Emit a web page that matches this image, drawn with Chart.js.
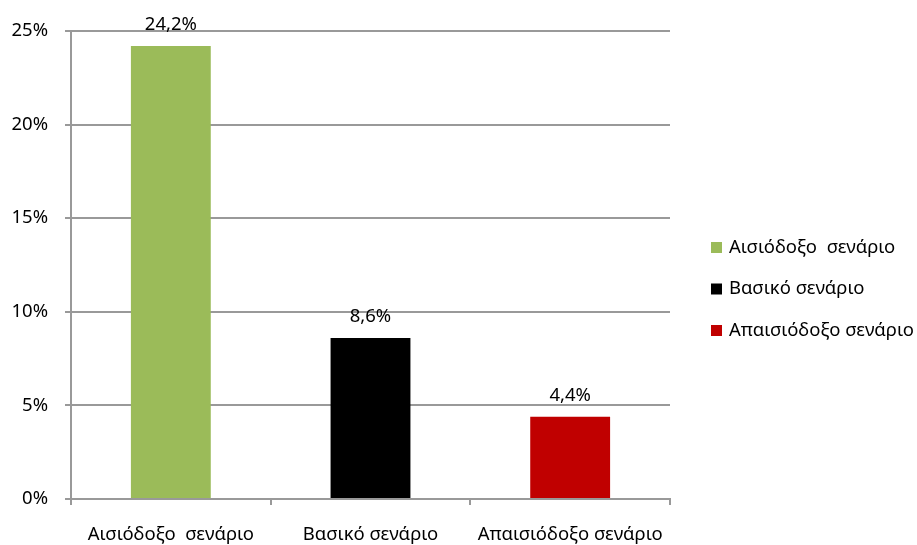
<!DOCTYPE html>
<html>
<head>
<meta charset="utf-8">
<script src="https://cdn.jsdelivr.net/npm/chart.js@4.4.0/dist/chart.umd.min.js"></script>
<style>
html,body{margin:0;padding:0;background:#fff;}
#wrap{width:917px;height:545px;position:relative;}
</style>
</head>
<body>
<div id="wrap"><canvas id="c" width="917" height="545"></canvas></div>
<script>
const categories = ['Αισιόδοξο  σενάριο', 'Βασικό σενάριο', 'Απαισιόδοξο σενάριο'];
const values = [24.2, 8.6, 4.4];
const colors = ['#9BBB59', '#000000', '#C00000'];
const yTicks = [0, 5, 10, 15, 20, 25];

const FONT = '"Noto Sans", "DejaVu Sans", sans-serif';
const FONT_SIZE = 18.5;
const GRID = '#999999';

const datasets = categories.map((name, i) => ({
  label: name,
  data: categories.map((_, j) => (j === i ? values[i] : null)),
  backgroundColor: colors[i],
  borderWidth: 0
}));

const valueLabels = {
  id: 'valueLabels',
  afterDatasetsDraw(chart) {
    const ctx = chart.ctx;
    ctx.save();
    ctx.font = FONT_SIZE + 'px ' + FONT;
    ctx.fillStyle = '#000';
    ctx.textAlign = 'center';
    ctx.textBaseline = 'middle';
    chart.data.datasets.forEach((ds, di) => {
      const meta = chart.getDatasetMeta(di);
      meta.data.forEach((bar, j) => {
        const v = ds.data[j];
        if (v === null || v === undefined) return;
        const txt = v.toFixed(1).replace('.', ',') + '%';
        ctx.fillText(txt, bar.x, bar.y - 21);
      });
    });
    ctx.restore();
  }
};

const sideLegend = {
  id: 'sideLegend',
  afterDraw(chart) {
    const ctx = chart.ctx;
    ctx.save();
    ctx.font = FONT_SIZE + 'px ' + FONT;
    ctx.textAlign = 'left';
    ctx.textBaseline = 'middle';
    const x0 = 711, box = 11, rowGap = 41.5;
    const yc = 289;
    chart.data.datasets.forEach((ds, i) => {
      const y = yc + (i - 1) * rowGap;
      ctx.fillStyle = ds.backgroundColor;
      ctx.fillRect(x0, y - box / 2, box, box);
      ctx.fillStyle = '#000';
      ctx.fillText(ds.label, x0 + 18, y);
    });
    ctx.restore();
  }
};

new Chart(document.getElementById('c'), {
  type: 'bar',
  data: { labels: categories, datasets },
  options: {
    responsive: false,
    animation: false,
    devicePixelRatio: 1,
    layout: { padding: { top: 31, right: 247, left: 0, bottom: 0 } },
    datasets: { bar: { grouped: false, barPercentage: 0.4, categoryPercentage: 1 } },
    plugins: { legend: { display: false }, tooltip: { enabled: false } },
    scales: {
      x: {
        offset: true,
        grid: { display: true, offset: true, drawOnChartArea: false, color: GRID, lineWidth: 2, tickLength: 6, tickColor: GRID, tickWidth: 2 },
        border: { display: true, color: GRID, width: 2 },
        ticks: { color: '#000', font: { family: FONT, size: FONT_SIZE }, padding: 19, maxRotation: 0 },
        afterFit(scale) { scale.height = 46; }
      },
      y: {
        min: 0, max: 25,
        afterBuildTicks(scale) { scale.ticks = yTicks.map(v => ({ value: v })); },
        grid: { color: GRID, lineWidth: 2, tickLength: 6, tickColor: GRID, tickWidth: 2 },
        border: { display: true, color: GRID, width: 2 },
        ticks: {
          color: '#000', font: { family: FONT, size: FONT_SIZE }, padding: 17,
          callback: v => v + '%'
        },
        afterFit(scale) { scale.width = 71; }
      }
    }
  },
  plugins: [valueLabels, sideLegend]
});
</script>
</body>
</html>
